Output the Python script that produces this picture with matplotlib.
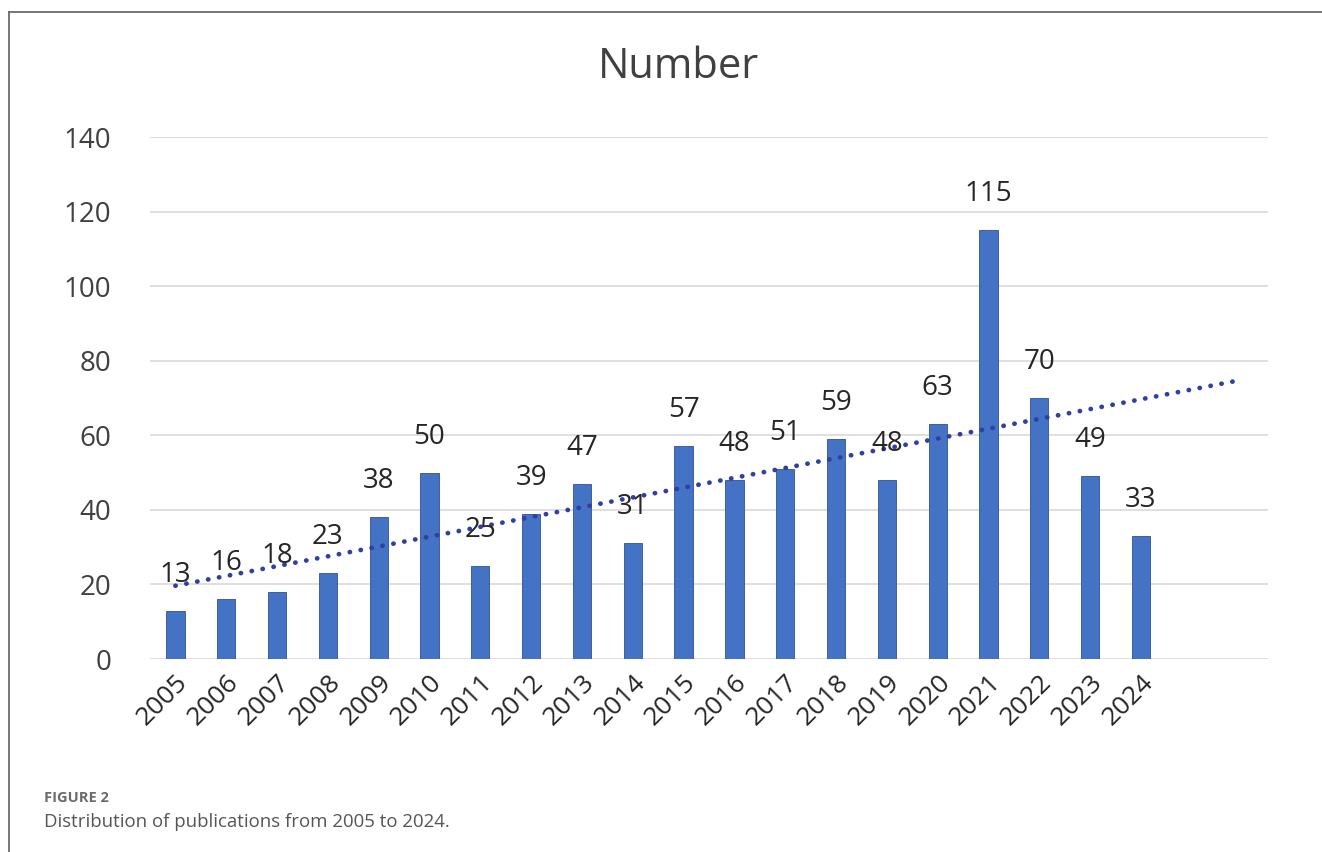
import numpy as np
import matplotlib.pyplot as plt
from matplotlib.lines import Line2D

years = ['2005', '2006', '2007', '2008', '2009', '2010', '2011', '2012', '2013', '2014',
         '2015', '2016', '2017', '2018', '2019', '2020', '2021', '2022', '2023', '2024']
counts = [13, 16, 18, 23, 38, 50, 25, 39, 47, 31, 57, 48, 51, 59, 48, 63, 115, 70, 49, 33]
forecast_periods = 2
yticks = [0, 20, 40, 60, 80, 100, 120, 140]

plt.rcParams['font.family'] = ['Open Sans', 'DejaVu Sans']

W, H = 1322, 852
fig = plt.figure(figsize=(W / 100, H / 100), dpi=100)
ax = fig.add_axes([150 / W, 1 - 659 / H, (1268 - 150) / W, (659 - 137) / H])

x = np.arange(len(years))
ax.bar(x, counts, width=0.36, color='#4472C4', edgecolor='#2F528F', linewidth=0.6, zorder=3)

# linear trend, forecast forward two periods (as in Excel)
slope, intercept = np.polyfit(x, counts, 1)
xt = np.array([0, len(years) - 1 + forecast_periods])
ax.plot(xt, slope * xt + intercept, linestyle=(0, (0.05, 2.3)), color='#2E3FA6',
        linewidth=3.4, dash_capstyle='round', zorder=4)

for xi, v in zip(x, counts):
    ax.annotate(str(v), (xi, v), xytext=(0, 36), textcoords='offset pixels',
                ha='center', va='center', fontsize=20, color='#262626', zorder=5)

ax.set_xlim(-0.5, len(years) - 1 + forecast_periods + 0.5)
ax.set_ylim(0, 140)
ax.set_yticks(yticks)
ax.set_xticks(x)
ax.set_xticklabels(years, rotation=45, ha='right', rotation_mode='anchor')
ax.tick_params(axis='x', length=0, pad=8, labelsize=19, labelcolor='#262626')
ax.tick_params(axis='y', length=0, pad=28, labelsize=20, labelcolor='#404040')
ax.grid(axis='y', color='#D9D9D9', linewidth=1.2, zorder=0)
for s in ax.spines.values():
    s.set_visible(False)

fig.text(678 / W, 1 - 67 / H, 'Number', ha='center', va='center', fontsize=30, color='#404040')

# panel frame (left and top edges visible)
fig.add_artist(Line2D([9 / W, 9 / W], [0, 1 - 12 / H], color='#6b6b6b', linewidth=1.3,
                      transform=fig.transFigure))
fig.add_artist(Line2D([9 / W, 1], [1 - 12 / H, 1 - 12 / H], color='#6b6b6b', linewidth=1.3,
                      transform=fig.transFigure))

fig.text(44 / W, 1 - 798 / H, 'FIGURE 2', ha='left', va='center', fontsize=10.5,
         fontweight='bold', color='#6b6b6b')
fig.text(44 / W, 1 - 822 / H, 'Distribution of publications from 2005 to 2024.', ha='left',
         va='center', fontsize=13.4, color='#555555')

fig.savefig('out.png', dpi=100)
